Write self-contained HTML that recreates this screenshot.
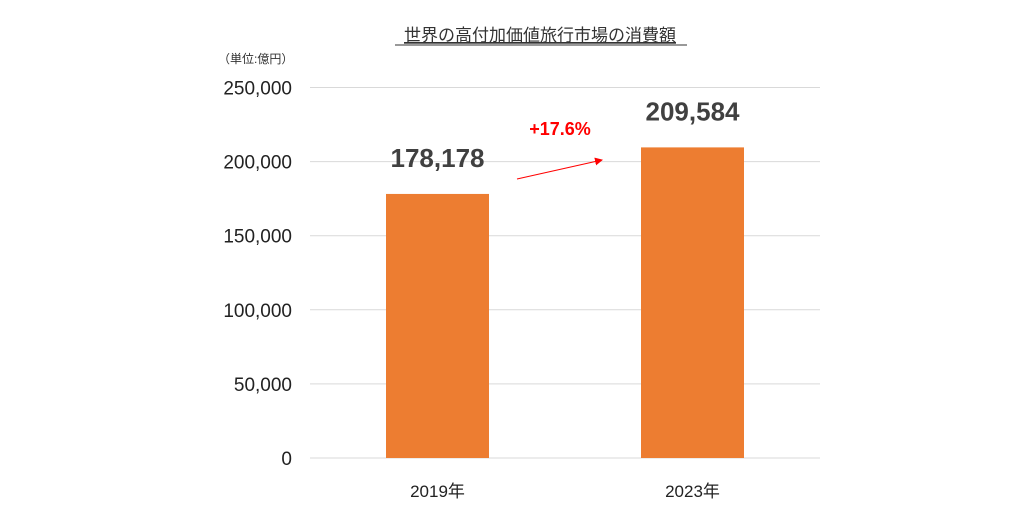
<!DOCTYPE html>
<html><head><meta charset="utf-8"><style>
body{margin:0;background:#fff;}
svg{display:block;font-family:"Liberation Sans","Noto Sans CJK JP",sans-serif;}
</style></head><body>
<svg id="chart" width="1024" height="507" viewBox="0 0 1024 507">
<text x="540" y="41" text-anchor="middle" font-size="17" fill="#333" text-decoration="underline">世界の高付加価値旅行市場の消費額</text>
<line x1="395" y1="45" x2="687" y2="45" stroke="#333" stroke-width="1"/>
<text x="218" y="63" font-size="12" fill="#333">（単位:億円）</text>
<g id="grid"></g>
<g id="yticks"></g>
<g id="bars"></g>
<g id="xlabels"></g>
<g id="vlabels"></g>
<defs><marker id="ah" markerWidth="8" markerHeight="8" refX="7" refY="4" orient="auto"><path d="M0,0 L8,4 L0,8 z" fill="#f00"/></marker></defs>
<line x1="517" y1="179" x2="602" y2="160" stroke="#f00" stroke-width="1" marker-end="url(#ah)"/>
<text x="560" y="135" text-anchor="middle" font-size="18" font-weight="bold" fill="#f00">+17.6%</text>
</svg>
<script>
const categories=["2019年","2023年"];
const values=[178178,209584];
const valueLabels=["178,178","209,584"];
const tickValues=[0,50000,100000,150000,200000,250000];
const tickLabels=["0","50,000","100,000","150,000","200,000","250,000"];
const NS="http://www.w3.org/2000/svg";
const y0=458,yTop=87.5,maxV=250000,xL=310,xR=820;
function y(v){return y0-(v/maxV)*(y0-yTop);}
function xc(i){return 437.5+i*255;}
function mk(t,a,p){const e=document.createElementNS(NS,t);for(const k in a)e.setAttribute(k,a[k]);p.appendChild(e);return e;}
const grid=document.getElementById('grid'),yt=document.getElementById('yticks'),bars=document.getElementById('bars'),xl=document.getElementById('xlabels'),vl=document.getElementById('vlabels');
tickValues.forEach((v,i)=>{
 const l=mk('line',{x1:xL,x2:xR,y1:y(v),y2:y(v),stroke:'#d9d9d9','stroke-width':1},grid);
 
 
 const t=mk('text',{x:292,y:y(v)+7,'text-anchor':'end','font-size':19,fill:'#222'},yt);
 t.textContent=tickLabels[i];
 
 
});
values.forEach((v,i)=>{
 const r=mk('rect',{x:xc(i)-51.5,y:y(v),width:103,height:y0-y(v),fill:'#ed7d31'},bars);
 
 
 const t=mk('text',{x:xc(i),y:497,'text-anchor':'middle','font-size':17,fill:'#222'},xl);
 t.textContent=categories[i];
 
 
 const vt=mk('text',{x:xc(i),y:y(v)-27,'text-anchor':'middle','font-size':26,'font-weight':'bold',fill:'#404040'},vl);
 vt.textContent=valueLabels[i];
 
 
});
</script>
</body></html>
